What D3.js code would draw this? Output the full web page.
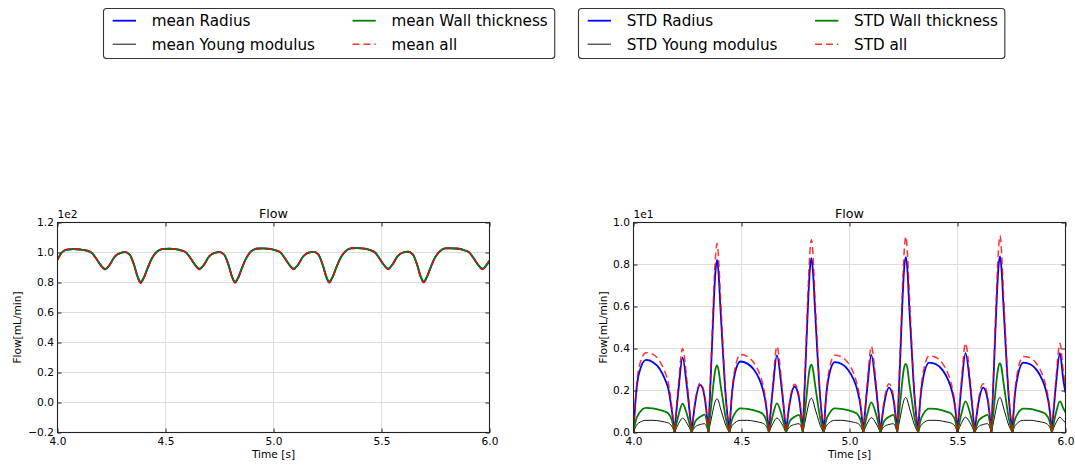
<!DOCTYPE html>
<html>
<head>
<meta charset="utf-8">
<script src="https://cdn.jsdelivr.net/npm/d3@7"></script>
<style>
  body { margin: 0; background: #fff; }
  svg text { font-family: "DejaVu Sans", sans-serif; fill: #000; }
</style>
</head>
<body>
<svg id="chart" width="1075" height="467"></svg>
<script>
// ---- Mean flow (mL/min) over two seconds of simulation ----
const meanTime = [
  4.000, 4.020, 4.045, 4.075, 4.105, 4.135, 4.160, 4.180, 4.200, 4.221, 4.240, 4.265, 4.290, 4.313, 4.335, 4.355, 4.371, 4.385, 4.399, 4.415, 4.435,
  4.460, 4.485, 4.515, 4.545, 4.572, 4.597, 4.617, 4.637, 4.658, 4.677, 4.702, 4.727, 4.750, 4.772, 4.792, 4.808, 4.822, 4.836, 4.852, 4.872,
  4.896, 4.921, 4.951, 4.981, 5.008, 5.033, 5.053, 5.073, 5.094, 5.113, 5.138, 5.163, 5.186, 5.208, 5.228, 5.244, 5.258, 5.272, 5.288, 5.308,
  5.333, 5.358, 5.388, 5.418, 5.445, 5.470, 5.490, 5.510, 5.531, 5.550, 5.575, 5.600, 5.623, 5.645, 5.665, 5.681, 5.695, 5.709, 5.725, 5.745,
  5.770, 5.795, 5.825, 5.855, 5.882, 5.907, 5.927, 5.947, 5.968, 5.987, 6.000
];
const meanRadius = [
  95.2, 100.0, 101.9, 102.2, 102.0, 101.3, 99.6, 95.8, 91.6, 88.8, 91.5, 97.2, 99.6, 100.2, 98.4, 91.5, 83.7, 80.0, 82.9, 88.8, 95.5,
  100.5, 102.2, 102.5, 102.2, 101.4, 99.8, 96.0, 91.7, 88.9, 91.6, 97.4, 99.8, 100.3, 98.5, 91.6, 83.8, 80.1, 83.0, 88.9, 95.7,
  100.7, 102.5, 102.7, 102.4, 101.5, 99.9, 96.1, 91.8, 89.0, 91.7, 97.5, 99.9, 100.4, 98.6, 91.7, 83.9, 80.2, 83.1, 89.0, 95.8,
  100.8, 102.7, 102.9, 102.6, 101.7, 100.0, 96.2, 91.9, 89.0, 91.8, 97.6, 100.0, 100.5, 98.7, 91.8, 84.0, 80.3, 83.2, 89.1, 95.9,
  100.8, 102.7, 102.8, 102.5, 101.6, 99.9, 96.1, 91.8, 89.0, 91.8, 94.5
];
const meanYoungModulus = [
  95.2, 100.0, 101.9, 102.2, 102.0, 101.3, 99.6, 95.8, 91.6, 88.9, 91.5, 97.2, 99.6, 100.2, 98.4, 91.5, 83.8, 80.2, 83.0, 88.8, 95.5,
  100.5, 102.2, 102.5, 102.2, 101.4, 99.8, 96.0, 91.7, 89.0, 91.6, 97.4, 99.8, 100.3, 98.5, 91.6, 83.9, 80.3, 83.1, 88.9, 95.7,
  100.7, 102.5, 102.7, 102.4, 101.5, 99.9, 96.1, 91.8, 89.1, 91.7, 97.5, 99.9, 100.4, 98.6, 91.7, 84.0, 80.4, 83.2, 89.0, 95.8,
  100.8, 102.7, 102.9, 102.6, 101.7, 100.0, 96.2, 91.9, 89.1, 91.8, 97.6, 100.0, 100.5, 98.7, 91.8, 84.1, 80.5, 83.3, 89.1, 95.9,
  100.8, 102.7, 102.8, 102.5, 101.6, 99.9, 96.1, 91.8, 89.1, 91.8, 94.5
];
const meanWallThickness = [
  95.2, 100.0, 101.9, 102.2, 102.0, 101.3, 99.6, 95.8, 91.7, 89.1, 91.6, 97.2, 99.6, 100.2, 98.4, 91.6, 84.0, 80.4, 83.2, 88.9, 95.5,
  100.5, 102.2, 102.5, 102.2, 101.4, 99.8, 96.0, 91.8, 89.2, 91.7, 97.4, 99.8, 100.3, 98.5, 91.7, 84.1, 80.5, 83.3, 89.0, 95.7,
  100.7, 102.5, 102.7, 102.4, 101.5, 99.9, 96.1, 91.9, 89.3, 91.8, 97.5, 99.9, 100.4, 98.6, 91.8, 84.2, 80.6, 83.4, 89.1, 95.8,
  100.8, 102.7, 102.9, 102.6, 101.7, 100.0, 96.2, 92.0, 89.3, 91.9, 97.6, 100.0, 100.5, 98.7, 91.9, 84.3, 80.7, 83.5, 89.2, 95.9,
  100.8, 102.7, 102.8, 102.5, 101.6, 99.9, 96.1, 91.9, 89.3, 91.9, 94.6
];
const meanAll = [
  95.0, 100.1, 102.1, 102.4, 102.2, 101.5, 99.7, 95.7, 91.3, 88.5, 91.2, 97.1, 99.7, 100.3, 98.3, 91.1, 83.2, 79.5, 82.5, 88.5, 95.4,
  100.6, 102.4, 102.7, 102.4, 101.6, 99.9, 95.9, 91.4, 88.6, 91.3, 97.3, 99.9, 100.4, 98.4, 91.2, 83.3, 79.6, 82.6, 88.6, 95.6,
  100.8, 102.7, 102.9, 102.6, 101.7, 100.0, 96.0, 91.5, 88.7, 91.4, 97.4, 100.0, 100.5, 98.5, 91.3, 83.4, 79.7, 82.7, 88.7, 95.7,
  100.9, 102.9, 103.1, 102.8, 101.9, 100.1, 96.1, 91.6, 88.7, 91.5, 97.5, 100.1, 100.6, 98.6, 91.4, 83.5, 79.8, 82.8, 88.8, 95.8,
  100.9, 102.9, 103.0, 102.7, 101.8, 100.0, 96.0, 91.5, 88.7, 91.5, 94.3
];

// ---- Standard deviation of the flow (mL/min) ----
const stdTime = [
  4.000, 4.010, 4.025, 4.058, 4.090, 4.120, 4.145, 4.162, 4.178,
  4.190, 4.209, 4.227, 4.248, 4.269, 4.287, 4.309, 4.329, 4.347, 4.363, 4.371, 4.379, 4.387, 4.395, 4.402, 4.413, 4.427, 4.444, 4.454, 4.469, 4.495, 4.527, 4.557, 4.582, 4.599, 4.615,
  4.627, 4.646, 4.664, 4.685, 4.706, 4.724, 4.746, 4.766, 4.784, 4.800, 4.808, 4.816, 4.824, 4.832, 4.839, 4.850, 4.864, 4.881, 4.891, 4.906, 4.932, 4.964, 4.994, 5.019, 5.036, 5.052,
  5.064, 5.083, 5.101, 5.122, 5.143, 5.161, 5.183, 5.203, 5.221, 5.237, 5.245, 5.253, 5.261, 5.269, 5.276, 5.287, 5.301, 5.318, 5.328, 5.343, 5.369, 5.401, 5.431, 5.456, 5.473, 5.489,
  5.500, 5.519, 5.537, 5.558, 5.579, 5.597, 5.619, 5.639, 5.657, 5.673, 5.681, 5.689, 5.697, 5.705, 5.712, 5.723, 5.737, 5.754, 5.764, 5.779, 5.805, 5.837, 5.867, 5.892, 5.909, 5.925,
  5.937, 5.956, 5.974, 5.990, 6.000
];
const stdRadius = [
  0, 1.6, 2.8, 3.46, 3.35, 3.05, 2.55, 2.05, 1.0,
  0, 2.1, 3.57, 2.1, 0, 1.5, 2.27, 1.7, 0, 4.0, 6.0, 7.6, 8.22, 7.4, 6.0, 4.0, 1.7, 0, 1.6, 2.8, 3.38, 3.28, 3.0, 2.55, 2.05, 1.2,
  0, 2.2, 3.67, 2.2, 0, 1.45, 2.19, 1.65, 0, 4.1, 6.1, 7.7, 8.30, 7.5, 6.1, 4.0, 1.7, 0, 1.6, 2.75, 3.35, 3.26, 2.98, 2.53, 2.03, 1.2,
  0, 2.2, 3.70, 2.2, 0, 1.4, 2.14, 1.6, 0, 4.1, 6.2, 7.8, 8.35, 7.6, 6.1, 4.1, 1.7, 0, 1.6, 2.7, 3.33, 3.25, 2.97, 2.52, 2.02, 1.2,
  0, 2.3, 3.78, 2.3, 0, 1.4, 2.14, 1.6, 0, 4.2, 6.2, 7.8, 8.38, 7.6, 6.2, 4.1, 1.7, 0, 1.6, 2.7, 3.33, 3.25, 2.97, 2.52, 2.02, 1.2,
  0, 2.3, 3.78, 2.5, 1.9
];
const stdYoungModulus = [
  0, 0.28, 0.46, 0.58, 0.58, 0.55, 0.50, 0.45, 0.29,
  0, 0.43, 0.68, 0.43, 0, 0.28, 0.38, 0.42, 0, 0.80, 1.20, 1.50, 1.60, 1.45, 1.18, 0.80, 0.35, 0, 0.28, 0.46, 0.58, 0.58, 0.54, 0.49, 0.44, 0.29,
  0, 0.44, 0.69, 0.44, 0, 0.28, 0.38, 0.42, 0, 0.82, 1.22, 1.53, 1.63, 1.48, 1.20, 0.82, 0.35, 0, 0.28, 0.46, 0.58, 0.58, 0.54, 0.49, 0.44, 0.29,
  0, 0.45, 0.71, 0.45, 0, 0.28, 0.38, 0.42, 0, 0.83, 1.25, 1.57, 1.67, 1.50, 1.22, 0.83, 0.35, 0, 0.28, 0.46, 0.58, 0.58, 0.54, 0.49, 0.44, 0.29,
  0, 0.46, 0.73, 0.46, 0, 0.28, 0.38, 0.42, 0, 0.83, 1.25, 1.57, 1.67, 1.50, 1.22, 0.83, 0.35, 0, 0.28, 0.46, 0.58, 0.58, 0.54, 0.49, 0.44, 0.29,
  0, 0.46, 0.73, 0.56, 0.47
];
const stdWallThickness = [
  0, 0.55, 0.90, 1.17, 1.15, 1.08, 1.00, 0.90, 0.58,
  0, 0.85, 1.37, 0.85, 0, 0.55, 0.75, 0.85, 0, 1.60, 2.40, 3.00, 3.19, 2.90, 2.35, 1.60, 0.70, 0, 0.55, 0.90, 1.15, 1.13, 1.06, 0.98, 0.88, 0.57,
  0, 0.87, 1.39, 0.87, 0, 0.55, 0.75, 0.84, 0, 1.60, 2.45, 3.05, 3.23, 2.95, 2.40, 1.60, 0.70, 0, 0.55, 0.90, 1.15, 1.13, 1.06, 0.98, 0.88, 0.57,
  0, 0.90, 1.43, 0.90, 0, 0.55, 0.75, 0.84, 0, 1.65, 2.50, 3.10, 3.27, 3.00, 2.40, 1.65, 0.70, 0, 0.55, 0.90, 1.14, 1.12, 1.05, 0.97, 0.87, 0.57,
  0, 0.93, 1.48, 0.93, 0, 0.55, 0.75, 0.84, 0, 1.65, 2.50, 3.10, 3.30, 3.00, 2.45, 1.65, 0.70, 0, 0.55, 0.90, 1.14, 1.12, 1.05, 0.97, 0.87, 0.57,
  0, 0.93, 1.48, 1.15, 0.95
];
const stdAll = [
  0, 1.7, 3.1, 3.8, 3.72, 3.42, 2.9, 2.32, 1.15,
  0, 2.4, 4.0, 2.4, 0, 1.6, 2.35, 1.8, 0, 4.4, 6.6, 8.3, 9.00, 8.1, 6.6, 4.4, 1.8, 0, 1.7, 3.0, 3.72, 3.62, 3.32, 2.84, 2.28, 1.3,
  0, 2.45, 4.1, 2.45, 0, 1.55, 2.3, 1.75, 0, 4.5, 6.7, 8.5, 9.18, 8.3, 6.7, 4.4, 1.8, 0, 1.7, 3.0, 3.68, 3.6, 3.3, 2.82, 2.26, 1.3,
  0, 2.45, 4.1, 2.45, 0, 1.55, 2.32, 1.75, 0, 4.6, 6.8, 8.6, 9.33, 8.4, 6.8, 4.5, 1.8, 0, 1.7, 2.95, 3.65, 3.57, 3.28, 2.8, 2.24, 1.3,
  0, 2.55, 4.25, 2.55, 0, 1.55, 2.32, 1.75, 0, 4.6, 6.8, 8.6, 9.38, 8.4, 6.8, 4.5, 1.8, 0, 1.7, 2.95, 3.62, 3.55, 3.26, 2.78, 2.22, 1.3,
  0, 2.55, 4.25, 2.9, 2.1
];

// ---- Labels and ticks ----
const meanLabels = ["mean Radius", "mean Young modulus", "mean Wall thickness", "mean all"];
const stdLabels = ["STD Radius", "STD Young modulus", "STD Wall thickness", "STD all"];
const panelTitle = "Flow";
const xAxisLabel = "Time [s]";
const yAxisLabel = "Flow[mL/min]";
const xTicks = [4.0, 4.5, 5.0, 5.5, 6.0];
const meanYTicks = [-20, 0, 20, 40, 60, 80, 100, 120];
const stdYTicks = [0, 2, 4, 6, 8, 10];

// Line styles, in legend order: Radius, Young modulus, Wall thickness, all
const lineStyles = [
  { color: "#0000ff", width: 1.8 },
  { color: "#111111", width: 1.0 },
  { color: "#008000", width: 1.8 },
  { color: "#ff0000", width: 1.5, dash: "7,4", opacity: 0.8 }
];

const svg = d3.select("#chart");
svg.append("rect").attr("width", 1075).attr("height", 467).attr("fill", "#fff");

const TICK_FONT = 10.6;

function cuspPath(line, pts) {
  // Split at interior zeros so each arch is smoothed on its own and the cusps stay sharp.
  const segs = [];
  let cur = [pts[0]];
  for (let i = 1; i < pts.length; i++) {
    cur.push(pts[i]);
    if (pts[i][1] === 0 && i < pts.length - 1) { segs.push(cur); cur = [pts[i]]; }
  }
  if (cur.length > 1) segs.push(cur);
  return segs.map((s, k) => { const d = line(s); return k ? "L" + d.slice(1) : d; }).join("");
}

function drawPanel(opt) {
  const { id, x0, y0, w, h, yDomain, yTicks, factor, offsetText, times, series, cusps, yLabelX } = opt;
  const g = svg.append("g");
  const x = d3.scaleLinear().domain([4, 6]).range([x0, x0 + w]);
  const y = d3.scaleLinear().domain(yDomain).range([y0 + h, y0]);

  // grid
  const grid = g.append("g").attr("stroke", "#dedede").attr("stroke-width", 1);
  grid.selectAll("line.v").data(xTicks).join("line")
    .attr("x1", d => x(d)).attr("x2", d => x(d)).attr("y1", y0).attr("y2", y0 + h);
  grid.selectAll("line.h").data(yTicks).join("line")
    .attr("x1", x0).attr("x2", x0 + w).attr("y1", d => y(d)).attr("y2", d => y(d));

  // curves
  g.append("clipPath").attr("id", id).append("rect")
    .attr("x", x0).attr("y", y0).attr("width", w).attr("height", h);
  const line = d3.line().x(d => x(d[0])).y(d => y(d[1])).curve(d3.curveMonotoneX);
  const plot = g.append("g").attr("clip-path", `url(#${id})`);
  series.forEach((vals, i) => {
    const st = lineStyles[i];
    const pts = times.map((t, k) => [t, vals[k]]);
    plot.append("path")
      .attr("d", cusps ? cuspPath(line, pts) : line(pts))
      .attr("fill", "none")
      .attr("stroke", st.color)
      .attr("stroke-width", st.width)
      .attr("stroke-dasharray", st.dash || null)
      .attr("stroke-opacity", st.opacity || 1)
      .attr("stroke-linejoin", "round");
  });

  // axes with inward ticks on all four sides
  const fmt = d3.format(".1f");
  const axisStyle = sel => {
    sel.attr("color", "#222");
    sel.select(".domain").remove();
    sel.selectAll("text").attr("font-size", TICK_FONT).attr("font-family", "DejaVu Sans").attr("fill", "#000");
  };
  g.append("g").attr("transform", `translate(0,${y0 + h})`)
    .call(d3.axisBottom(x).tickValues(xTicks).tickFormat(fmt).tickSizeInner(-4).tickSizeOuter(0).tickPadding(4.6))
    .call(axisStyle);
  g.append("g").attr("transform", `translate(0,${y0})`)
    .call(d3.axisTop(x).tickValues(xTicks).tickFormat("").tickSizeInner(-4).tickSizeOuter(0))
    .call(axisStyle);
  g.append("g").attr("transform", `translate(${x0},0)`)
    .call(d3.axisLeft(y).tickValues(yTicks).tickFormat(d => fmt(d / factor)).tickSizeInner(-4).tickSizeOuter(0).tickPadding(3.6))
    .call(axisStyle);
  g.append("g").attr("transform", `translate(${x0 + w},0)`)
    .call(d3.axisRight(y).tickValues(yTicks).tickFormat("").tickSizeInner(-4).tickSizeOuter(0))
    .call(axisStyle);

  // frame
  g.append("rect").attr("x", x0).attr("y", y0).attr("width", w).attr("height", h)
    .attr("fill", "none").attr("stroke", "#222").attr("stroke-width", 1.1);

  // texts
  g.append("text").attr("x", x0 + w / 2).attr("y", y0 - 4.4).attr("text-anchor", "middle")
    .attr("font-size", 12.7).text(panelTitle);
  g.append("text").attr("x", x0).attr("y", y0 - 4.4).attr("font-size", TICK_FONT).text(offsetText);
  g.append("text").attr("x", x0 + w / 2).attr("y", y0 + h + 25.3).attr("text-anchor", "middle")
    .attr("font-size", TICK_FONT).text(xAxisLabel);
  g.append("text").attr("transform", `translate(${yLabelX},${y0 + h / 2}) rotate(-90)`)
    .attr("text-anchor", "middle").attr("font-size", TICK_FONT).text(yAxisLabel);
}

function drawLegend(bx, by, bh, labels) {
  const g = svg.append("g");
  const box = g.append("rect");
  const rows = [by + 12.2, by + 35.7];
  const fs = 15.2;
  const col1Line = bx + 9.2, lineLen = 23.3, textGap = 15.7;
  const items = labels.map(lab => g.append("text").attr("font-size", fs).text(lab));
  const col1W = Math.max(items[0].node().getComputedTextLength(), items[1].node().getComputedTextLength());
  const col2Line = col1Line + lineLen + textGap + col1W + 37.5;
  const col2W = Math.max(items[2].node().getComputedTextLength(), items[3].node().getComputedTextLength());
  labels.forEach((lab, i) => {
    const lx = i < 2 ? col1Line : col2Line;
    const ry = rows[i % 2];
    const st = lineStyles[i];
    g.append("line").attr("x1", lx).attr("x2", lx + lineLen).attr("y1", ry).attr("y2", ry)
      .attr("stroke", st.color).attr("stroke-width", st.width)
      .attr("stroke-dasharray", st.dash || null).attr("stroke-opacity", st.opacity || 1);
    items[i].attr("x", lx + lineLen + textGap).attr("y", ry + 5.5).raise();
  });
  const bw = col2Line + lineLen + textGap + col2W + 7 - bx;
  box.attr("x", bx).attr("y", by).attr("width", bw).attr("height", bh).attr("rx", 3)
    .attr("fill", "#fff").attr("stroke", "#333").attr("stroke-width", 1.1);
}

drawPanel({
  id: "clipMean", x0: 57.5, y0: 222.5, w: 432, h: 210,
  yDomain: [-20, 120], yTicks: meanYTicks, factor: 100, offsetText: "1e2",
  times: meanTime, series: [meanRadius, meanYoungModulus, meanWallThickness, meanAll],
  cusps: false, yLabelX: 21
});
drawPanel({
  id: "clipStd", x0: 633.5, y0: 222.5, w: 432, h: 210,
  yDomain: [0, 10], yTicks: stdYTicks, factor: 10, offsetText: "1e1",
  times: stdTime, series: [stdRadius, stdYoungModulus, stdWallThickness, stdAll],
  cusps: true, yLabelX: 606.5
});

drawLegend(103.5, 8.5, 50, meanLabels);
drawLegend(578.5, 8.5, 50, stdLabels);
</script>
</body>
</html>
